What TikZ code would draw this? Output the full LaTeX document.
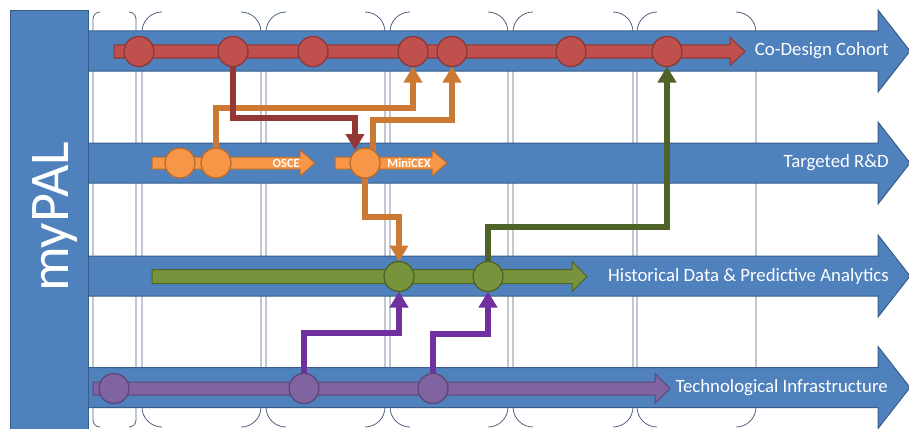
\documentclass[tikz,border=0pt]{standalone}
\usepackage{fontspec}
\setmainfont{Carlito}
\usetikzlibrary{arrows.meta}
\definecolor{pptblue}{HTML}{4F81BD}
\definecolor{pptblueb}{HTML}{385D8A}
\definecolor{gridc}{RGB}{80,100,130}
\definecolor{redf}{HTML}{C0504D}
\definecolor{redb}{HTML}{8C3836}
\definecolor{redc}{HTML}{953735}
\definecolor{orf}{HTML}{F79646}
\definecolor{orb}{HTML}{B66D31}
\definecolor{orc}{HTML}{CC7A33}
\definecolor{grf}{HTML}{77933C}
\definecolor{grb}{HTML}{4F6228}
\definecolor{grc}{HTML}{4F6228}
\definecolor{puf}{HTML}{8064A2}
\definecolor{pub}{HTML}{5C4776}
\definecolor{puc}{HTML}{7030A0}
\begin{document}
\begin{tikzpicture}[x=1pt,y=-1pt,
  lane/.style={fill=pptblue,draw=pptblueb,line width=1pt},
  lanelabel/.style={anchor=east,text=white,inner sep=0pt,font=\fontsize{18.8}{20}\selectfont},
  brk/.style={draw=gridc,line width=0.8pt,rounded corners=#1},
  dot/.style={circle,minimum size=30pt,inner sep=0pt,line width=1.3pt},
  rdot/.style={dot,fill=redf,draw=redb},
  odot/.style={dot,fill=orf,draw=orb},
  gdot/.style={dot,fill=grf,draw=grb},
  pdot/.style={dot,fill=puf,draw=pub},
  conn/.style={line width=6pt,draw=#1,-{Triangle[width=18pt,length=16pt,fill=#1]}},
  tag/.style={anchor=east,text=white,inner sep=0pt,font=\bfseries\fontsize{12.5}{13}\selectfont}
]
\useasboundingbox (0,0) rectangle (909,428);
\clip (0,0) rectangle (909,428);

% column brackets
\foreach \xl/\xr/\r in {93/136/7,142/261/20,266/385/20,390/508/20,513/633/20,637/756/20}{
  \draw[brk=\r] (\xl+\r,12) -- (\xl,12) -- (\xl,427) -- (\xl+\r,427);
  \draw[brk=\r] (\xr-\r,12) -- (\xr,12) -- (\xr,427) -- (\xr-\r,427);
}

% lane arrows
\foreach \c in {51,163,276,387.5}{
  \draw[lane] (88,\c-20) -- (878,\c-20) -- (878,\c-41) -- (910,\c) -- (878,\c+41) -- (878,\c+20) -- (88,\c+20) -- cycle;
}

% left box
\draw[lane] (10,11) rectangle (88,432);
\node[rotate=90,anchor=base,text=white,inner sep=0pt,font=\fontsize{56}{60}\selectfont] (title) at (68,217) {myPAL};

% lane labels
\node[lanelabel] (l1) at (889,51) {Co-Design Cohort};
\node[lanelabel] (l2) at (889,163) {Targeted R\&D};
\node[lanelabel] (l3) at (889,276) {Historical Data \& Predictive Analytics};
\node[lanelabel] (l4) at (888,387.5) {Technological Infrastructure};

% tracks
\foreach \xa/\xh/\xt/\c/\hb/\hh/\f/\b in {
  114/730/745/51.5/6.5/14/redf/redb,
  152/300/315/163/6/13/orf/orb,
  335/432/447/163/6/13/orf/orb,
  152/572/587/276.5/7/15/grf/grb,
  93/655/670/388.5/6.5/15/puf/pub}{
  \draw[fill=\f,draw=\b,line width=1pt] (\xa,\c-\hb) -- (\xh,\c-\hb) -- (\xh,\c-\hh) -- (\xt,\c) -- (\xh,\c+\hh) -- (\xh,\c+\hb) -- (\xa,\c+\hb) -- cycle;
}
\node[tag] (osce) at (300,163.5) {OSCE};
\node[tag] (minicex) at (431,163.5) {MiniCEX};

% circle positions
\coordinate (r1) at (139,51.5);
\coordinate (r2) at (233,51.5);
\coordinate (r3) at (313,51.5);
\coordinate (r4) at (413,51.5);
\coordinate (r5) at (452,51.5);
\coordinate (r6) at (571,51.5);
\coordinate (r7) at (667,51.5);
\coordinate (o1) at (180,163);
\coordinate (o2) at (216,163);
\coordinate (o3) at (365,163);
\coordinate (g1) at (399,276.5);
\coordinate (g2) at (488,276.5);
\coordinate (p1) at (114,388.5);
\coordinate (p2) at (304,388.5);
\coordinate (p3) at (433,388.5);

% connectors
\draw[conn=orc] (o2) -- ++(0,-55) -| ([yshift=-15pt]r4);
\draw[conn=orc] ([xshift=8pt]o3) -- ++(0,-43) -| ([yshift=-15pt]r5);
\draw[conn=redc] (r2) -- ++(0,66.5) -| ([xshift=-10pt,yshift=13pt]o3);
\draw[conn=orc] (o3) -- ++(0,54) -| ([yshift=15pt]g1);
\draw[conn=puc] (p2) -- ++(0,-56) -| ([yshift=-15pt]g1);
\draw[conn=puc] (p3) -- ++(0,-55) -| ([yshift=-15pt]g2);
\draw[conn=grc] (g2) -- ++(0,-49.5) -| ([yshift=-15pt]r7);

% circles
\foreach \n in {r1,r2,r3,r4,r5,r6,r7}{\node[rdot] (c\n) at (\n) {};}
\foreach \n in {o1,o2,o3}{\node[odot] (c\n) at (\n) {};}
\foreach \n in {g1,g2}{\node[gdot] (c\n) at (\n) {};}
\foreach \n in {p1,p2,p3}{\node[pdot] (c\n) at (\n) {};}
\end{tikzpicture}
\end{document}
